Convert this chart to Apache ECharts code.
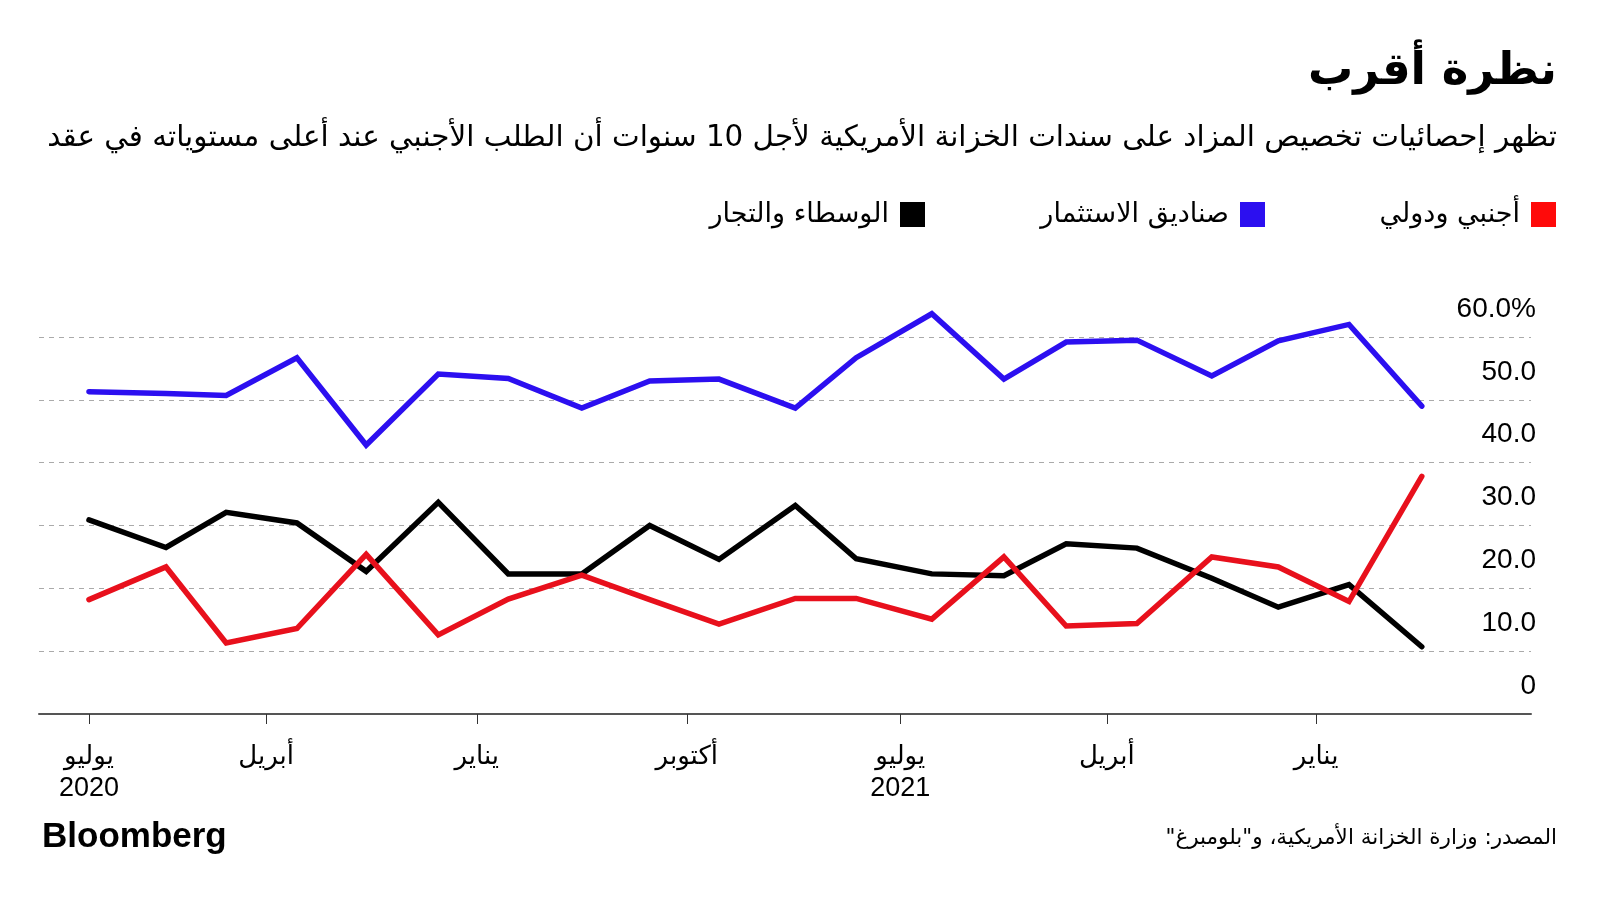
<!DOCTYPE html>
<html><head><meta charset="utf-8">
<script src="https://cdn.jsdelivr.net/npm/echarts@6/dist/echarts.min.js"></script>
<style>html,body{margin:0;padding:0;background:#fff}#c{width:1600px;height:900px}</style>
</head><body><div id="c"></div>
<script>
// Auction dates expressed as months since July 2020
const auctionMonth = [0, 1.1, 1.96, 2.97, 3.96, 4.99, 5.99, 7.04, 8.01, 9.0, 10.09, 10.96, 12.04, 13.07, 13.96, 14.97, 16.04, 16.99, 18.0, 19.04];
// Percent of allotment
const foreignIntl = [18.2, 23.4, 11.3, 13.6, 25.4, 12.6, 18.3, 22.1, 18.2, 14.3, 18.4, 18.4, 15.1, 25.0, 14.0, 14.4, 25.0, 23.4, 17.9, 37.8];
const investmentFunds = [51.3, 51.0, 50.7, 56.7, 42.8, 54.1, 53.4, 48.7, 53.0, 53.3, 48.7, 56.7, 63.7, 53.3, 59.2, 59.5, 53.8, 59.4, 62.0, 49.0];
const dealers = [30.9, 26.5, 32.1, 30.4, 22.7, 33.7, 22.3, 22.3, 30.0, 24.6, 33.2, 24.7, 22.3, 22.0, 27.1, 26.4, 21.6, 17.0, 20.6, 10.7];

const seriesNames = ['أجنبي ودولي', 'صناديق الاستثمار', 'الوسطاء والتجار'];
const tickMonths = [0, 2.53, 5.54, 8.54, 11.59, 14.54, 17.53];
const tickMonthNames = ['يوليو', 'أبريل', 'يناير', 'أكتوبر', 'يوليو', 'أبريل', 'يناير'];
const tickYears = ['2020', '', '', '', '2021', '', ''];
const yTickValues = [0, 10, 20, 30, 40, 50, 60];
const yTickLabels = ['0', '10.0', '20.0', '30.0', '40.0', '50.0', '60.0%'];

const titleText = 'نظرة أقرب';
const subtitleText = 'تظهر إحصائيات تخصيص المزاد على سندات الخزانة الأمريكية لأجل 10 سنوات أن الطلب الأجنبي عند أعلى مستوياته في عقد';
const sourceText = '\u200Fالمصدر: وزارة الخزانة الأمريكية، و"بلومبرغ"\u200F';

const RED = '#e8101c', BLUE = '#2c0ff0', BLACK = '#000000';
const AR = '"DejaVu Sans", "Noto Sans", sans-serif';
const NUM = '"Liberation Sans", Arial, "DejaVu Sans", sans-serif';

function pairs(ys) { return ys.map((y, i) => [auctionMonth[i], y]); }

const chart = echarts.init(document.getElementById('c'), null, {renderer: 'canvas'});
const legendBase = {
  orient: 'horizontal', align: 'right', icon: 'rect', itemWidth: 25, itemHeight: 25,
  padding: 0, top: 201, selectedMode: false,
  textStyle: {fontFamily: AR, fontSize: 27, color: '#000', padding: [0, 6, 0, 0]}
};
chart.setOption({
  backgroundColor: '#fff',
  animation: false,
  title: [
    {text: titleText, right: 38, top: 45, textStyle: {fontFamily: AR, fontSize: 45, fontWeight: 'bold', color: '#000'}},
    {text: subtitleText, right: 38, top: 119, textStyle: {fontFamily: AR, fontSize: 29.4, fontWeight: 'normal', color: '#000'}},
    {text: sourceText, right: 38, top: 822, textStyle: {fontFamily: AR, fontSize: 21.5, fontWeight: 'normal', color: '#000'}},
    {text: 'Bloomberg', left: 37, top: 815, textStyle: {fontFamily: NUM, fontSize: 35, fontWeight: 'bold', color: '#000'}}
  ],
  legend: [
    Object.assign({}, legendBase, {right: 44, data: [{name: seriesNames[0], itemStyle: {color: '#ff0a0a'}}]}),
    Object.assign({}, legendBase, {right: 335, data: [{name: seriesNames[1], itemStyle: {color: BLUE}}]}),
    Object.assign({}, legendBase, {right: 675, data: [{name: seriesNames[2], itemStyle: {color: BLACK}}]})
  ],
  grid: {left: 39, right: 69, top: 337, bottom: 186, containLabel: false},
  xAxis: {
    type: 'value', min: -0.714, max: 20.6,
    splitLine: {show: false},
    axisLine: {show: true, onZero: false, lineStyle: {color: '#555', width: 2}},
    axisTick: {show: true, length: 10, customValues: tickMonths, lineStyle: {color: '#333', width: 1}},
    axisLabel: {
      customValues: tickMonths, margin: 28, color: '#000',
      formatter: v => {
        let i = tickMonths.findIndex(t => Math.abs(t - v) < 1e-6);
        if (i < 0) return '';
        return '{m|' + tickMonthNames[i] + '}' + (tickYears[i] ? '\n{y|' + tickYears[i] + '}' : '');
      },
      rich: {
        m: {fontFamily: AR, fontSize: 26, lineHeight: 31, color: '#000'},
        y: {fontFamily: NUM, fontSize: 27, lineHeight: 31, color: '#000'}
      }
    }
  },
  yAxis: {
    type: 'value', position: 'right', min: 0, max: 60, interval: 10,
    axisLine: {show: false}, axisTick: {show: false},
    splitLine: {show: true, lineStyle: {type: [5, 5], color: '#aaa', width: 1}},
    axisLabel: {
      inside: true, margin: -5, fontFamily: NUM, fontSize: 28, color: '#000',
      verticalAlign: 'bottom', lineHeight: 56,
      formatter: v => { let i = yTickValues.indexOf(v); return i >= 0 ? yTickLabels[i] : ''; }
    }
  },
  series: [
    {name: seriesNames[2], type: 'line', data: pairs(dealers), symbol: 'none', color: BLACK, clip: false,
     lineStyle: {color: BLACK, width: 5.5, join: 'miter', cap: 'round'}, z: 2},
    {name: seriesNames[1], type: 'line', data: pairs(investmentFunds), symbol: 'none', color: BLUE, clip: false,
     lineStyle: {color: BLUE, width: 5.5, join: 'miter', cap: 'round'}, z: 3},
    {name: seriesNames[0], type: 'line', data: pairs(foreignIntl), symbol: 'none', color: RED, clip: false,
     lineStyle: {color: RED, width: 5.5, join: 'miter', cap: 'round'}, z: 4}
  ]
});
</script></body></html>
